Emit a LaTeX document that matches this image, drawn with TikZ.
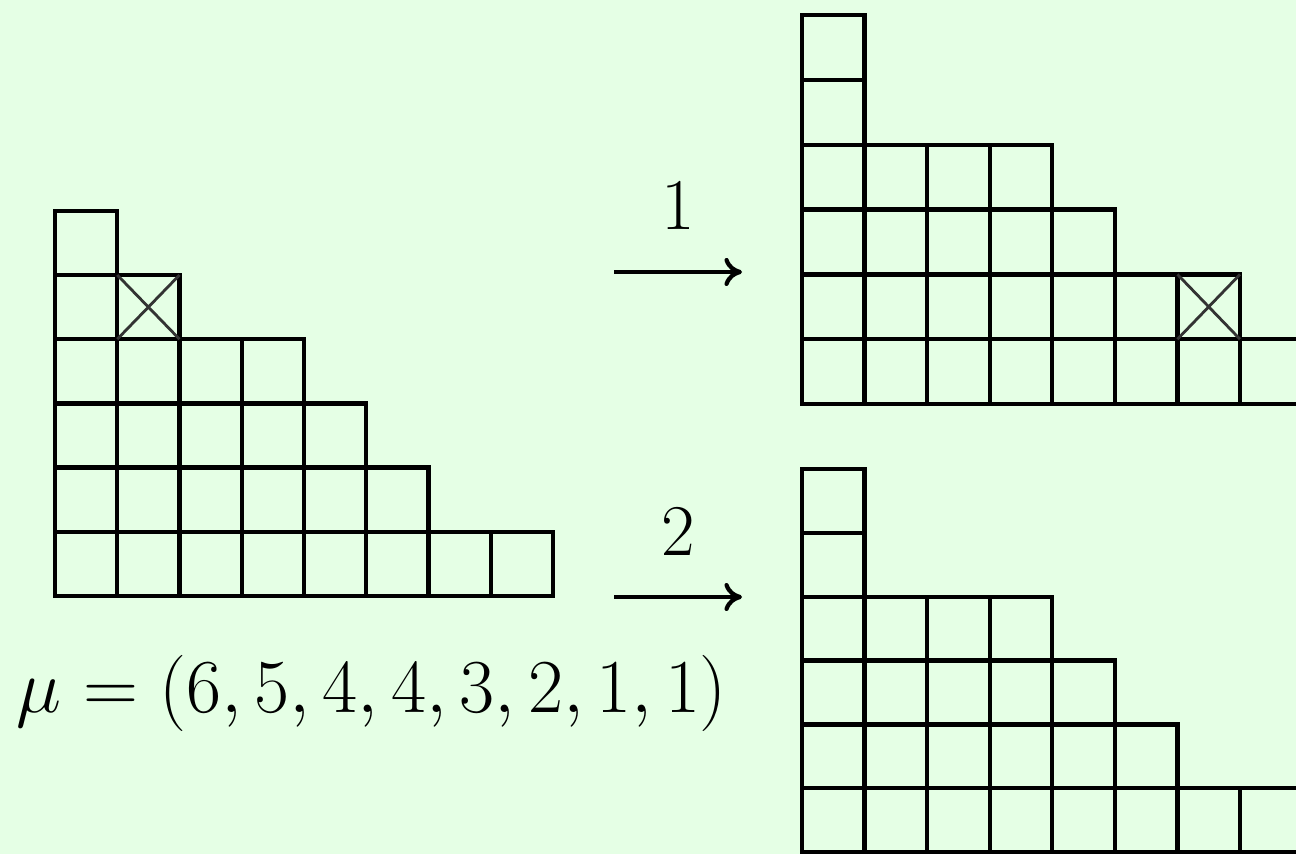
\documentclass[tikz,border=0pt]{standalone}
\usepackage{amsmath}
\usepackage{tikz}
\usetikzlibrary{arrows.meta}
\definecolor{bgc}{HTML}{E5FFE5}

\begin{document}
\begin{tikzpicture}[>={Computer Modern Rightarrow[length=5pt, width=8pt]}, x=1cm, y=1cm,
      box/.style={draw=black, line width=1.2pt},
      cross/.style={draw=black!80, line width=0.8pt},
      ar/.style={->, line width=1.2pt},
      lab/.style={font=\huge, inner sep=0pt}]
    \fill[bgc] (0,0) rectangle (12.96,8.54);
    \useasboundingbox (0,0) rectangle (12.96,8.54);
    \clip (0,0) rectangle (12.96,8.54);
    % the partition mu
    \begin{scope}[shift={(0.55,2.58)}, x=0.6225cm, y=0.642cm]
      \foreach \h [count=\c] in {6,5,4,4,3,2,1,1}{
        \foreach \r in {1,...,\h}{
          \draw[box] (\c-1,\r-1) rectangle (\c,\r);}}
      \draw[cross] (1,4) -- (2,5) (1,5) -- (2,4);
    \end{scope}
    \node[lab, scale=1.046, transform shape, anchor=base] (mu) at (3.72,1.42)
      {$\mu=(6,5,4,4,3,2,1,1)$};
    % case 1
    \begin{scope}[shift={(8.02,4.50)}, x=0.6257cm, y=0.648cm]
      \foreach \h [count=\c] in {6,4,4,4,3,2,2,1}{
        \foreach \r in {1,...,\h}{
          \draw[box] (\c-1,\r-1) rectangle (\c,\r);}}
      \draw[cross] (6,1) -- (7,2) (6,2) -- (7,1);
    \end{scope}
    % case 2
    \begin{scope}[shift={(8.02,0.02)}, x=0.6257cm, y=0.638cm]
      \foreach \h [count=\c] in {6,4,4,4,3,2,1,1}{
        \foreach \r in {1,...,\h}{
          \draw[box] (\c-1,\r-1) rectangle (\c,\r);}}
    \end{scope}
    \coordinate (a1s) at (6.14,5.82);
    \coordinate (a1e) at (7.42,5.82);
    \coordinate (a2s) at (6.14,2.57);
    \coordinate (a2e) at (7.42,2.57);
    \draw[ar] (a1s) -- node[lab, above=0.4cm] (l1) {$1$} (a1e);
    \draw[ar] (a2s) -- node[lab, above=0.39cm] (l2) {$2$} (a2e);
  \end{tikzpicture}
\end{document}
